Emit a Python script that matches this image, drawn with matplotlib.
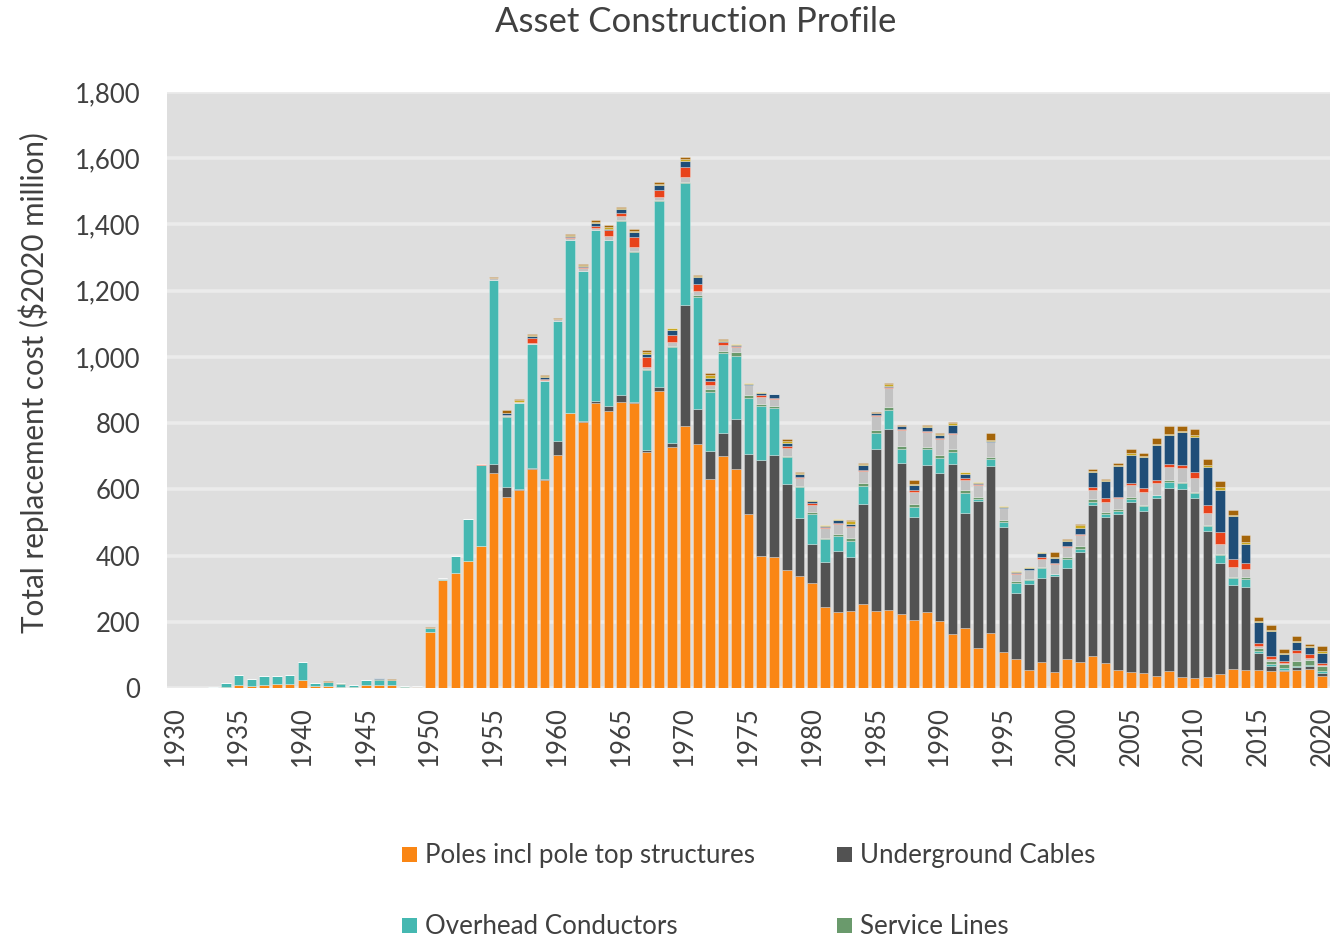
import matplotlib
matplotlib.use("Agg")
import matplotlib.pyplot as plt
from matplotlib.patches import Rectangle
from matplotlib.ticker import FuncFormatter
import numpy as np

plt.rcParams['font.family'] = ['Lato', 'DejaVu Sans']

years = list(range(1930, 2021))

# Segment values ($2020 million) per year, 1930..2020
poles = [0, 0, 0, 0, 2, 8, 6, 10, 11, 12,
         24, 5, 5, 4, 2, 9, 8, 8, 3, 3,
         169, 327, 346, 383, 428, 649, 577, 598, 662, 627,
         704, 830, 803, 860, 837, 865, 861, 714, 898, 729,
         791, 737, 631, 701, 662, 524, 398, 395, 356, 338,
         317, 246, 229, 234, 253, 234, 237, 223, 204, 230,
         201, 164, 180, 120, 166, 108, 87, 55, 80, 47,
         87, 78, 96, 75, 54, 47, 44, 36, 50, 32,
         30, 34, 43, 57, 55, 55, 50, 50, 55, 56,
         37]
ug_cables = [0, 0, 0, 0, 0, 0, 0, 0, 0, 0,
             0, 0, 0, 0, 0, 0, 0, 0, 0, 0,
             0, 0, 0, 0, 0, 29, 30, 3, 2, 3,
             41, 2, 3, 8, 14, 21, 2, 4, 11, 12,
             365, 106, 85, 68, 151, 182, 290, 310, 260, 176,
             119, 136, 185, 163, 304, 489, 545, 456, 313, 442,
             448, 514, 349, 446, 503, 377, 201, 260, 253, 290,
             274, 333, 457, 440, 472, 516, 491, 537, 555, 570,
             545, 439, 335, 253, 250, 51, 17, 3, 7, 9,
             7]
oh_conductors = [0, 0, 0, 3, 13, 32, 21, 26, 25, 28,
                 55, 10, 12, 9, 6, 15, 16, 17, 3, 1,
                 12, 3, 52, 127, 244, 555, 212, 260, 375, 296,
                 362, 521, 452, 515, 503, 524, 455, 243, 561, 290,
                 368, 339, 179, 243, 191, 171, 163, 141, 81, 93,
                 90, 68, 45, 48, 52, 47, 59, 44, 29, 49,
                 45, 35, 59, 4, 23, 15, 28, 10, 28, 7,
                 29, 9, 9, 11, 10, 9, 16, 9, 18, 16,
                 14, 15, 23, 23, 24, 6, 4, 6, 5, 4,
                 8]
service_lines = [0, 0, 0, 0, 0, 0, 0, 0, 0, 0,
                 0, 0, 0, 1, 0, 0, 2, 0, 0, 0,
                 0, 0, 0, 0, 0, 0, 2, 0, 0, 0,
                 0, 0, 0, 0, 0, 3, 3, 3, 4, 3,
                 4, 5, 7, 7, 10, 9, 7, 7, 5, 4,
                 5, 4, 5, 7, 10, 9, 9, 8, 10, 7,
                 10, 9, 9, 8, 7, 8, 7, 5, 5, 1,
                 7, 9, 8, 6, 4, 4, 3, 2, 4, 5,
                 4, 5, 3, 3, 6, 10, 12, 12, 15, 16,
                 14]
light_grey = [0, 0, 0, 0, 0, 0, 0, 0, 0, 0,
              0, 0, 0, 0, 0, 0, 1, 0, 0, 1,
              1, 2, 0, 1, 0, 5, 2, 2, 4, 5,
              6, 5, 9, 7, 11, 11, 11, 6, 8, 12,
              15, 12, 12, 17, 17, 28, 22, 21, 22, 24,
              23, 28, 31, 33, 35, 43, 55, 47, 37, 45,
              47, 44, 32, 35, 44, 35, 22, 25, 25, 29,
              28, 33, 29, 31, 33, 36, 39, 35, 39, 40,
              40, 37, 32, 30, 25, 6, 5, 4, 23, 5,
              4]
red = [0, 0, 0, 0, 0, 0, 0, 0, 0, 0,
       0, 0, 2, 0, 0, 0, 0, 0, 0, 0,
       0, 0, 0, 0, 4, 0, 3, 0, 15, 2,
       0, 3, 4, 5, 18, 11, 29, 30, 21, 19,
       29, 22, 12, 9, 2, 2, 4, 3, 6, 3,
       4, 3, 3, 3, 4, 2, 3, 4, 6, 3,
       3, 5, 4, 2, 1, 2, 3, 2, 4, 3,
       4, 4, 8, 10, 4, 8, 11, 10, 11, 12,
       19, 22, 36, 24, 17, 8, 10, 7, 10, 14,
       6]
dark_blue = [0, 0, 0, 0, 0, 0, 0, 0, 0, 0,
             0, 0, 0, 0, 0, 0, 3, 0, 0, 0,
             0, 0, 0, 0, 0, 0, 6, 2, 4, 5,
             2, 5, 3, 10, 4, 11, 17, 10, 16, 15,
             20, 20, 11, 4, 4, 3, 8, 10, 11, 9,
             8, 5, 9, 7, 14, 6, 5, 8, 13, 13,
             11, 24, 14, 5, 3, 3, 3, 6, 13, 15,
             16, 17, 46, 51, 92, 85, 93, 104, 87, 97,
             106, 114, 126, 129, 59, 63, 75, 21, 23, 19,
             29]
yellow = [0, 0, 0, 0, 0, 0, 0, 0, 0, 0,
          0, 0, 0, 0, 0, 0, 0, 0, 0, 0,
          0, 0, 0, 0, 0, 0, 0, 5, 5, 3,
          0, 3, 4, 3, 6, 3, 3, 5, 4, 6,
          7, 2, 8, 2, 1, 2, 1, 1, 6, 3,
          2, 1, 2, 8, 5, 2, 4, 2, 5, 3,
          3, 5, 4, 2, 3, 1, 1, 2, 2, 3,
          3, 8, 3, 5, 4, 5, 4, 4, 4, 5,
          6, 6, 9, 4, 6, 4, 3, 3, 5, 3,
          6]
brown = [0, 0, 0, 0, 0, 0, 0, 0, 0, 0,
         0, 0, 2, 0, 0, 0, 0, 1, 0, 0,
         1, 0, 1, 0, 2, 3, 8, 2, 3, 3,
         3, 2, 2, 4, 6, 3, 4, 6, 5, 2,
         6, 3, 5, 2, 0, 1, 1, 1, 4, 2,
         1, 1, 2, 3, 4, 1, 3, 2, 11, 2,
         1, 3, 2, 1, 21, 1, 1, 1, 1, 16,
         2, 5, 4, 2, 8, 12, 10, 18, 23, 14,
         17, 19, 19, 15, 19, 12, 14, 13, 13, 6,
         15]

series = [
    ("Poles incl pole top structures", poles, "#FA8614"),
    ("Underground Cables", ug_cables, "#525252"),
    ("Overhead Conductors", oh_conductors, "#45B8B1"),
    ("Service Lines", service_lines, "#6A9A6C"),
    ("Other 1", light_grey, "#C2C2C2"),
    ("Other 2", red, "#E8431B"),
    ("Other 3", dark_blue, "#1F4E78"),
    ("Other 4", yellow, "#C9A820"),
    ("Other 5", brown, "#A4650A"),
]

W, H = 1343, 939
fig = plt.figure(figsize=(W / 100, H / 100), dpi=100)
fig.patch.set_facecolor("white")
ax = fig.add_axes([167 / W, 1 - 688 / H, (1330 - 167) / W, (688 - 92) / H])
ax.set_facecolor("#DEDEDE")

x = np.arange(len(years))
bottom = np.zeros(len(years))
for name, vals, col in series:
    v = np.array(vals, dtype=float)
    ax.bar(x, v, bottom=bottom, width=0.75, color=col,
           edgecolor=(1, 1, 1, 0.35), linewidth=0.6, zorder=3)
    bottom += v

ax.set_xlim(-0.62, len(years) - 0.38)
ax.set_ylim(0, 1800)
ax.set_yticks(np.arange(0, 1801, 200))
ax.yaxis.set_major_formatter(FuncFormatter(lambda v, p: f"{int(v):,}"))
ax.grid(axis="y", color="#EBEBEB", linewidth=2.6, zorder=1)
ax.set_axisbelow(True)

tick_idx = [i for i, yv in enumerate(years) if yv % 5 == 0]
ax.set_xticks(tick_idx)
ax.set_xticklabels([str(years[i]) for i in tick_idx], rotation=90)

for s in ax.spines.values():
    s.set_visible(False)
ax.tick_params(axis="both", length=0, labelsize=18.5, colors="#404040")
ax.tick_params(axis="y", pad=19)
ax.tick_params(axis="x", pad=13)

ax.set_ylabel("Total replacement cost ($2020 million)", fontsize=21.3,
              color="#404040")
ax.yaxis.set_label_coords(-0.1015, 0.512)
fig.text(0.518, 1 - 22 / H, "Asset Construction Profile", ha="center",
         va="center", fontsize=25, color="#404040")

# Legend (only first four entries visible; lower row clipped by figure edge)
leg_items = [(series[0][0], series[0][2], 402, 854),
             (series[1][0], series[1][2], 837, 854),
             (series[2][0], series[2][2], 402, 925),
             (series[3][0], series[3][2], 837, 925)]
for lab, col, px, py in leg_items:
    sq = 15
    fig.patches.append(Rectangle((px / W, 1 - (py + sq / 2) / H), sq / W, sq / H,
                                 transform=fig.transFigure, facecolor=col,
                                 edgecolor="none"))
    fig.text((px + 23) / W, 1 - (py + 1) / H, lab, ha="left", va="center",
             fontsize=18.6, color="#404040")

fig.savefig("out.png", dpi=100)
